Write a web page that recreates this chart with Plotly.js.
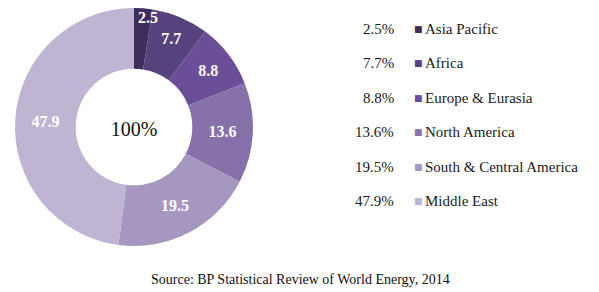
<!DOCTYPE html>
<html>
<head>
<meta charset="utf-8">
<script src="https://cdn.plot.ly/plotly-3.0.1.min.js"></script>
<style>html,body{margin:0;padding:0;background:#fff;}#chart{width:599px;height:292px;}</style>
</head>
<body>
<div id="chart"></div>
<script>
const categories = ["Asia Pacific", "Africa", "Europe & Eurasia", "North America", "South & Central America", "Middle East"];
const values = [2.5, 7.7, 8.8, 13.6, 19.5, 47.9];
const colors = ["#3e2c5c", "#56427c", "#6b4e98", "#8771aa", "#a697c0", "#bfb4d2"];
const centerText = "100%";
const sourceText = "Source: BP Statistical Review of World Energy, 2014";

const W = 599, H = 292;
const serif = "Liberation Serif";

// donut geometry (pixels)
const cx = 134, cy = 127, R = 119;

// the thinnest slice's label is drawn at full size near the outer rim
const smallIdx = 0;
const texts = values.map((v, i) => i === smallIdx ? "" : "%{value}");

const pie = {
  type: "pie",
  labels: categories,
  values: values,
  sort: false,
  direction: "clockwise",
  rotation: 0,
  hole: 0.49,
  marker: {colors: colors, line: {width: 0}},
  texttemplate: texts,
  textposition: "inside",
  insidetextorientation: "horizontal",
  insidetextfont: {family: serif, size: 16, color: "#ffffff", weight: "bold"},
  title: {text: centerText, position: "middle center", font: {family: serif, size: 20, color: "#111111"}},
  domain: {x: [(cx - R) / W, (cx + R) / W], y: [1 - (cy + R) / H, 1 - (cy - R) / H]},
  hoverinfo: "label+value",
  showlegend: false
};

const total = values.reduce((a, b) => a + b, 0);
let before = 0;
for (let i = 0; i < smallIdx; i++) before += values[i];
const midAng = (before + values[smallIdx] / 2) / total * 2 * Math.PI;
const rLab = R * 0.92;

const annotations = [];
annotations.push({
  xref: "paper", yref: "paper",
  x: (cx + rLab * Math.sin(midAng)) / W, y: 1 - (cy - rLab * Math.cos(midAng)) / H,
  xanchor: "center", yanchor: "middle", xshift: 5,
  text: String(values[smallIdx]), showarrow: false,
  font: {family: serif, size: 16, color: "#ffffff", weight: "bold"}
});

const rowTop = 28.5, rowGap = 34.5;
categories.forEach((c, i) => {
  const y = 1 - (rowTop + i * rowGap) / H;
  annotations.push({
    xref: "paper", yref: "paper", x: 396 / W, y: y, xanchor: "right", yanchor: "middle",
    text: values[i].toFixed(1) + "%", showarrow: false,
    font: {family: serif, size: 15, color: "#1a1a1a"}
  });
  annotations.push({
    xref: "paper", yref: "paper", x: 418 / W, y: y, xanchor: "center", yanchor: "middle",
    text: "■", showarrow: false,
    font: {family: "DejaVu Sans", size: 9, color: colors[i]}
  });
  annotations.push({
    xref: "paper", yref: "paper", x: 423 / W, y: y, xanchor: "left", yanchor: "middle",
    text: c, showarrow: false,
    font: {family: serif, size: 15, color: "#1a1a1a"}
  });
});
annotations.push({
  xref: "paper", yref: "paper", x: 300 / W, y: 1 - 279 / H, xanchor: "center", yanchor: "middle",
  text: sourceText, showarrow: false,
  font: {family: serif, size: 14, color: "#111111"}
});

const layout = {
  width: W, height: H,
  margin: {l: 0, r: 0, t: 0, b: 0},
  paper_bgcolor: "#ffffff",
  plot_bgcolor: "#ffffff",
  showlegend: false,
  annotations: annotations
};

Plotly.newPlot("chart", [pie], layout, {displayModeBar: false, staticPlot: true});
</script>
</body>
</html>
